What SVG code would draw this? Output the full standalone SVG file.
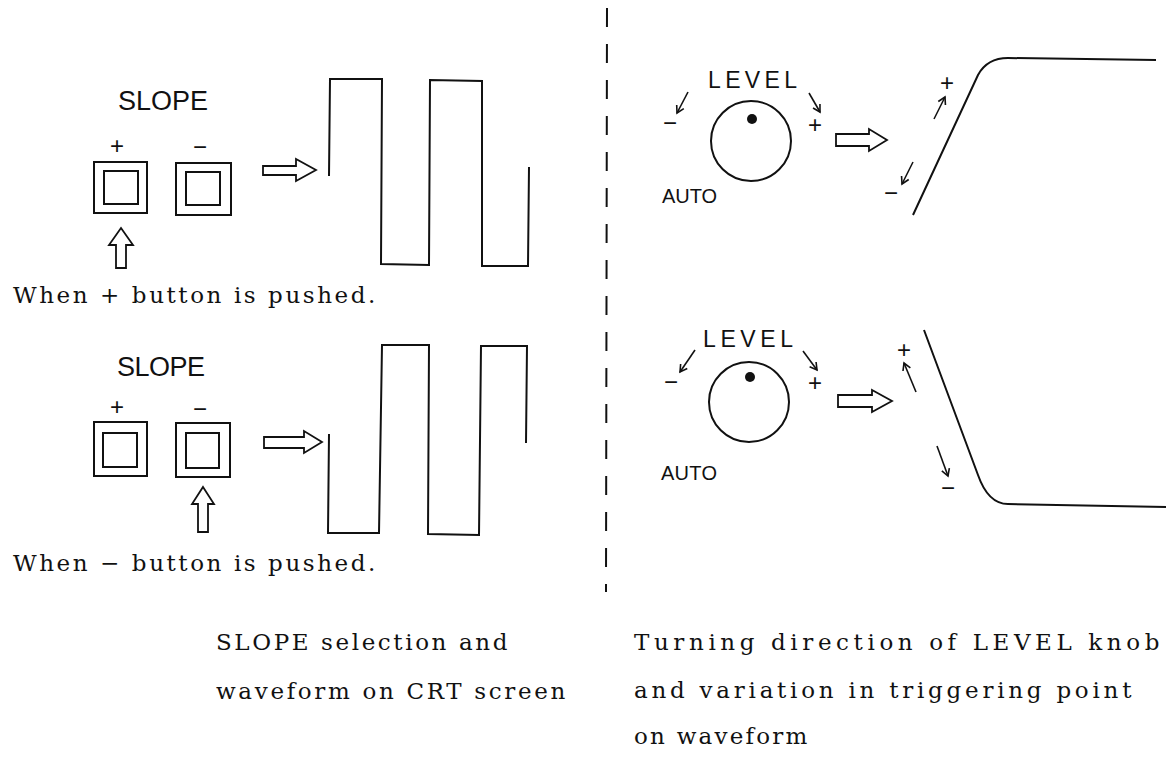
<svg xmlns="http://www.w3.org/2000/svg" width="1170" height="757" viewBox="0 0 1170 757">
<style>
.ln{fill:none;stroke:#111;stroke-width:2;stroke-linejoin:miter}
.btn{fill:none;stroke:#111;stroke-width:2}
.hol{fill:#fff;stroke:#111;stroke-width:1.8;stroke-linejoin:miter}
.sa{fill:none;stroke:#111;stroke-width:1.6;marker-end:url(#v)}
.lab{font-family:"Liberation Sans",Arial,sans-serif;fill:#111}
.sg{font-family:"Liberation Sans",Arial,sans-serif;fill:#111;font-size:24px;text-anchor:middle}
.ser{font-family:"DejaVu Serif","Liberation Serif",serif;font-size:23px;fill:#111;letter-spacing:2.6px}
</style>
<defs>
<marker id="v" markerUnits="userSpaceOnUse" markerWidth="12" markerHeight="12" refX="10" refY="6" orient="auto"><path d="M3,2 L10,6 L3,10" fill="none" stroke="#111" stroke-width="1.6"/></marker>
</defs>

<g id="divider"><line x1="607" y1="8" x2="606" y2="592" stroke="#111" stroke-width="2" stroke-dasharray="19 17"/></g>

<g id="slope-plus-panel">
<text class="lab" x="118" y="110" font-size="27" textLength="90" lengthAdjust="spacing">SLOPE</text>
<text class="sg" x="117" y="154">+</text>
<text class="sg" x="200" y="155">−</text>
<g id="btn-plus-1"><rect class="btn" x="94" y="162" width="53" height="51"/><rect class="btn" x="104" y="171" width="34" height="33"/></g>
<g id="btn-minus-1"><rect class="btn" x="176" y="163" width="55" height="52"/><rect class="btn" x="186" y="172" width="34" height="33"/></g>
<polygon id="push-arrow-1" class="hol" points="121,228 133,245 126,245 126,268 116,268 116,245 109,245"/>
<polygon id="out-arrow-1" class="hol" points="263,166 296,166 296,159 316,170 296,181 296,175 263,175"/>
<text class="ser" x="13" y="303" textLength="365" lengthAdjust="spacing">When + button is pushed.</text>
</g>
<g id="wave-1"><polyline class="ln" points="329,176 330,79 382,79 381,264 429,265 430,80 482,81 482,266 528,266 529,167"/></g>

<g id="slope-minus-panel">
<text class="lab" x="117" y="376" font-size="27" textLength="88" lengthAdjust="spacing">SLOPE</text>
<text class="sg" x="117" y="415">+</text>
<text class="sg" x="200" y="417">−</text>
<g id="btn-plus-2"><rect class="btn" x="94" y="422" width="53" height="54"/><rect class="btn" x="103" y="433" width="34" height="34"/></g>
<g id="btn-minus-2"><rect class="btn" x="176" y="423" width="54" height="54"/><rect class="btn" x="186" y="433" width="33" height="35"/></g>
<polygon id="push-arrow-2" class="hol" points="203,487 214,504 208,504 208,532 198,532 198,504 192,504"/>
<polygon id="out-arrow-2" class="hol" points="264,437 304,437 304,431 322,442 304,453 304,448 264,448"/>
<text class="ser" x="13" y="571" textLength="365" lengthAdjust="spacing">When − button is pushed.</text>
</g>
<g id="wave-2"><polyline class="ln" points="329,434 328,533 379,533 382,345 429,345 428,534 479,535 481,346 527,346 526,443"/></g>

<g id="knob-1">
<text class="lab" x="708" y="88" font-size="23" textLength="89" lengthAdjust="spacing">LEVEL</text>
<circle class="ln" cx="751" cy="141" r="40"/>
<circle cx="752" cy="119" r="5" fill="#111"/>
<line class="sa" x1="688" y1="92" x2="677" y2="113"/>
<line class="sa" x1="809" y1="93" x2="820" y2="112"/>
<text class="sg" x="670" y="131">−</text>
<text class="sg" x="815" y="133">+</text>
<text class="lab" x="662" y="203" font-size="20" textLength="55" lengthAdjust="spacing">AUTO</text>
<polygon class="hol" points="836,134 869,134 869,129 887,140 869,151 869,146 836,146"/>
</g>
<g id="trace-rise">
<path class="ln" d="M913,215 L978,75 C985,62 995,58 1008,58 L1156,60"/>
<line class="sa" x1="934" y1="119" x2="945" y2="97"/>
<line class="sa" x1="913" y1="162" x2="902" y2="184"/>
<text class="sg" x="947" y="91">+</text>
<text class="sg" x="891" y="201">−</text>
</g>

<g id="knob-2">
<text class="lab" x="703" y="347" font-size="23" textLength="90" lengthAdjust="spacing">LEVEL</text>
<circle class="ln" cx="749" cy="402" r="40"/>
<circle cx="750" cy="377" r="5" fill="#111"/>
<line class="sa" x1="695" y1="350" x2="680" y2="372"/>
<line class="sa" x1="803" y1="351" x2="817" y2="370"/>
<text class="sg" x="671" y="390">−</text>
<text class="sg" x="815" y="391">+</text>
<text class="lab" x="661" y="480" font-size="20" textLength="56" lengthAdjust="spacing">AUTO</text>
<polygon class="hol" points="838,395 872,395 872,390 892,401 872,412 872,407 838,407"/>
</g>
<g id="trace-fall">
<path class="ln" d="M924,330 L978,475 C985,495 995,504 1008,504 L1166,507"/>
<line class="sa" x1="916" y1="392" x2="904" y2="363"/>
<line class="sa" x1="937" y1="446" x2="948" y2="476"/>
<text class="sg" x="904" y="358">+</text>
<text class="sg" x="948" y="496">−</text>
</g>

<g id="captions">
<text class="ser" x="216" y="650" textLength="294" lengthAdjust="spacing">SLOPE selection and</text>
<text class="ser" x="216" y="699" textLength="352" lengthAdjust="spacing">waveform on CRT screen</text>
<text class="ser" x="634" y="650" textLength="528" lengthAdjust="spacing">Turning direction of LEVEL knob</text>
<text class="ser" x="634" y="698" textLength="500" lengthAdjust="spacing">and variation in triggering point</text>
<text class="ser" x="634" y="744" textLength="176" lengthAdjust="spacing">on waveform</text>
</g>
</svg>
